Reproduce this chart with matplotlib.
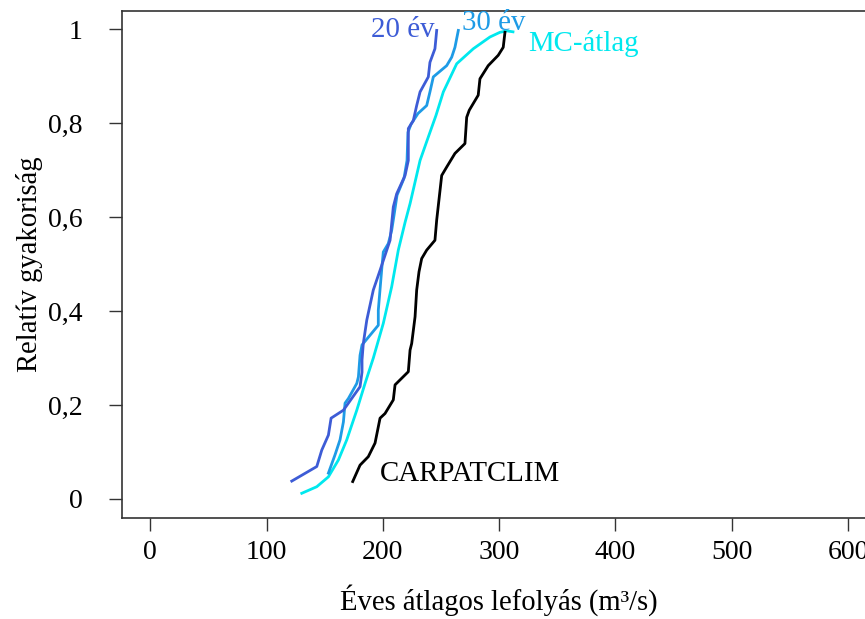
# Empirikus eloszlásfüggvények: éves átlagos lefolyás
import matplotlib
matplotlib.use("Agg")
import matplotlib.pyplot as plt

plt.rcParams["font.family"] = ["Liberation Serif", "DejaVu Serif"]

# 20 éves minta
x20 = [121.7, 143.2, 147.5, 153.2, 155.5, 166.1, 180.4, 182.1, 182.1, 183.2,
       186.2, 191.8, 197.6, 201.9, 206.2, 209.0, 211.9, 219.1, 221.9, 221.9,
       226.2, 229.1, 232.0, 239.1, 240.5, 244.8, 246.3]
y20 = [0.038, 0.069, 0.104, 0.136, 0.172, 0.189, 0.239, 0.270, 0.296, 0.331,
       0.381, 0.445, 0.487, 0.519, 0.551, 0.622, 0.650, 0.689, 0.721, 0.789,
       0.806, 0.838, 0.867, 0.899, 0.930, 0.959, 0.998]

# 30 éves minta
x30 = [153.2, 158.9, 163.2, 166.1, 167.5, 170.4, 177.6, 179.0, 180.4, 182.1,
       196.1, 196.1, 199.1, 200.4, 204.7, 207.6, 209.6, 212.2, 218.2, 220.8,
       221.6, 224.2, 230.2, 237.7, 240.5, 243.4, 254.9, 259.2, 262.0, 264.9]
y30 = [0.055, 0.094, 0.126, 0.164, 0.204, 0.214, 0.246, 0.260, 0.306, 0.328,
       0.370, 0.402, 0.491, 0.526, 0.544, 0.572, 0.604, 0.647, 0.683, 0.721,
       0.781, 0.798, 0.821, 0.838, 0.867, 0.899, 0.923, 0.941, 0.962, 0.998]

# Monte Carlo átlag
xmc = [130.3, 143.2, 153.2, 161.8, 169.0, 177.6, 184.7, 191.8, 200.4, 207.6,
       213.3, 219.1, 223.4, 232.0, 239.1, 245.7, 252.0, 263.5, 277.8, 292.1,
       300.7, 306.7, 311.9]
ymc = [0.012, 0.026, 0.047, 0.083, 0.126, 0.189, 0.246, 0.300, 0.374, 0.452,
       0.530, 0.589, 0.629, 0.721, 0.771, 0.817, 0.867, 0.927, 0.959, 0.984,
       0.994, 0.997, 0.995]

# CARPATCLIM
xcc = [174.1, 180.4, 187.5, 193.3, 197.6, 201.9, 209.0, 210.5, 221.9, 223.4,
       224.8, 227.7, 229.1, 231.1, 233.4, 237.7, 244.8, 246.3, 250.6, 254.9,
       262.0, 270.6, 272.1, 274.3, 282.0, 283.5, 290.6, 299.2, 303.5, 305.0]
ycc = [0.037, 0.072, 0.090, 0.119, 0.172, 0.182, 0.211, 0.243, 0.271, 0.317,
       0.331, 0.388, 0.445, 0.484, 0.512, 0.530, 0.551, 0.594, 0.689, 0.707,
       0.736, 0.757, 0.813, 0.828, 0.860, 0.895, 0.923, 0.945, 0.962, 0.994]

xticks = [0, 100, 200, 300, 400, 500, 600]
yticks = [0, 0.2, 0.4, 0.6, 0.8, 1]
ytick_labels = ["0", "0,2", "0,4", "0,6", "0,8", "1"]

c20 = "#3D5CD6"
c30 = "#1E9BE6"
cmc = "#00E8EE"

fig = plt.figure(figsize=(8.65, 6.19), dpi=100)
ax = fig.add_axes([122.3 / 865, (619 - 517.7) / 619,
                   (876 - 122.3) / 865, (517.7 - 10.7) / 619])

ax.plot(xmc, ymc, color=cmc, lw=2)
ax.plot(x30, y30, color=c30, lw=2)
ax.plot(x20, y20, color=c20, lw=2)
ax.plot(xcc, ycc, color="black", lw=2)

ax.text(190, 0.984, "20 év", color=c20, fontsize=20.8, va="baseline")
ax.text(268, 0.998, "30 év", color=c30, fontsize=20.8, va="baseline")
ax.text(325, 0.955, "MC-átlag", color=cmc, fontsize=20.8, va="baseline")
ax.text(197.6, 0.039, "CARPATCLIM", color="black", fontsize=20.8, va="baseline")

ax.set_xlim(-24, 624)
ax.set_ylim(-0.04, 1.04)
ax.set_xticks(xticks)
ax.set_yticks(yticks)
ax.set_yticklabels(ytick_labels)
ax.tick_params(axis="both", labelsize=20, length=9.4, width=1, color="#333333")
ax.tick_params(axis="x", pad=6.5)
ax.tick_params(axis="y", pad=19)
for s in ax.spines.values():
    s.set_linewidth(1.2)
    s.set_color("#333333")

ax.set_xlabel("Éves átlagos lefolyás (m³/s)", fontsize=20.6, labelpad=14)
ax.set_ylabel("Relatív gyakoriság", fontsize=20.6, labelpad=4)

fig.savefig("out.png", dpi=100)
